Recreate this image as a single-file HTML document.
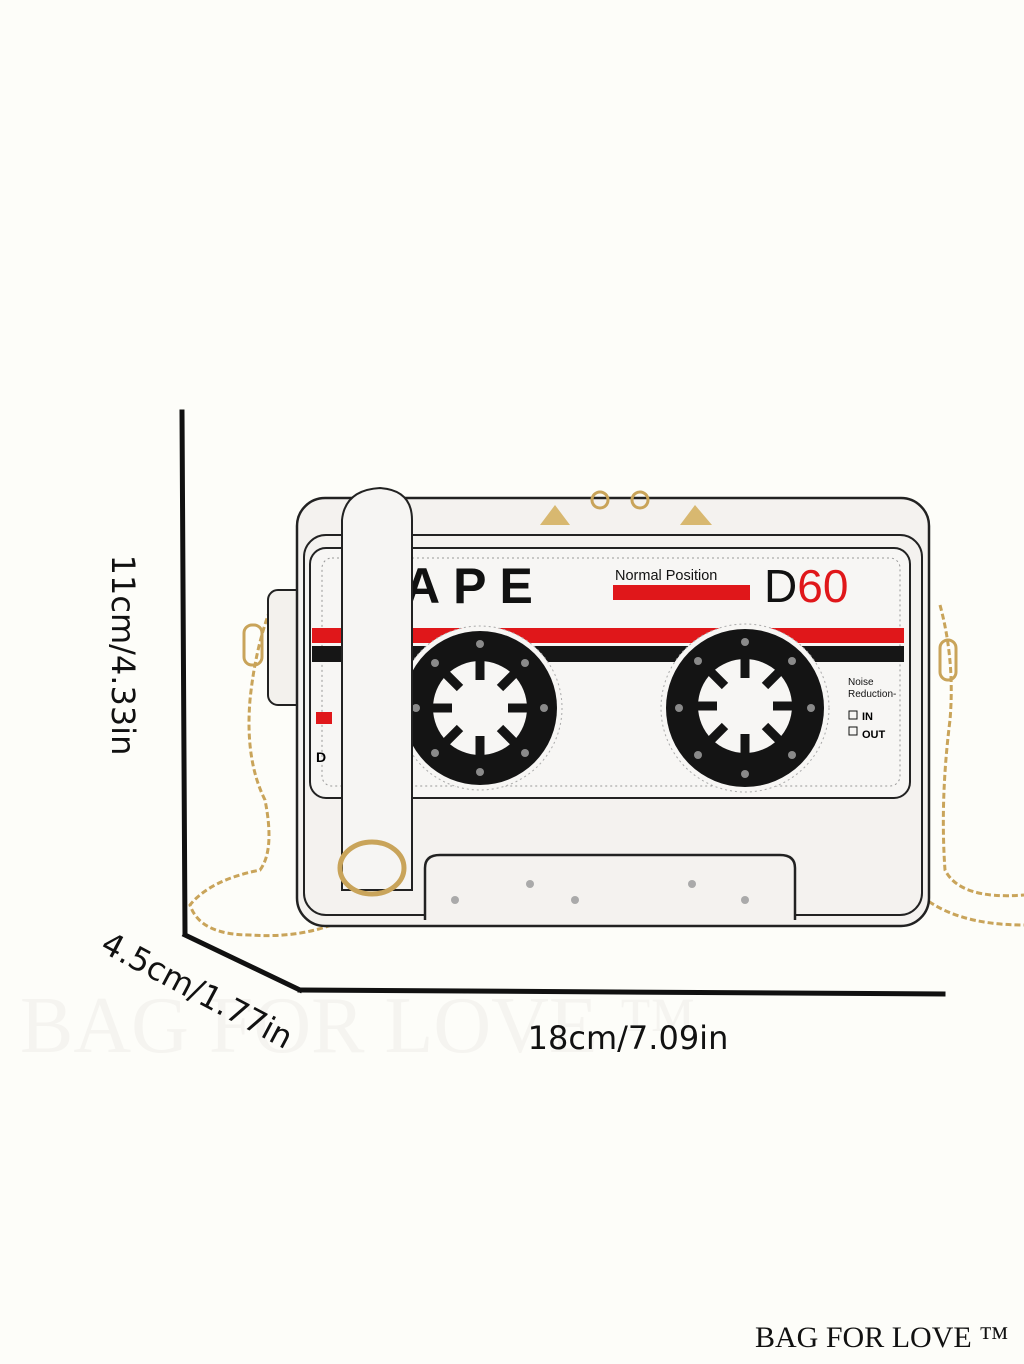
<!DOCTYPE html>
<html><head><meta charset="utf-8"><style>
html,body{margin:0;padding:0;background:#fdfdf9}
svg{display:block}
</style></head><body>
<svg width="1024" height="1364" viewBox="0 0 1024 1364" xmlns="http://www.w3.org/2000/svg" font-family="DejaVu Sans, Liberation Sans, sans-serif">
<rect width="1024" height="1364" fill="#fdfdf9"/>
<!-- watermark -->
<text x="20" y="1052" font-family="Liberation Serif, serif" font-size="80" fill="#f5f4f0">BAG FOR LOVE ™</text>
<!-- chains -->
<g fill="none" stroke="#c9a45a" stroke-width="3">
<path d="M270 610 Q255 650 250 700 Q245 760 265 800 Q275 850 260 870 Q210 880 190 905 Q200 935 250 935 Q320 940 370 905" stroke-dasharray="6 3"/>
<path d="M940 605 Q955 660 950 720 Q940 800 945 870 Q960 900 1024 895" stroke-dasharray="6 3"/>
<path d="M915 890 Q950 925 1024 925" stroke-dasharray="6 3"/>
<rect x="244" y="625" width="18" height="40" rx="8"/>
<rect x="940" y="640" width="16" height="40" rx="8"/>
</g>
<!-- bag side -->
<rect x="268" y="590" width="40" height="115" rx="10" fill="#f3f1ed" stroke="#222" stroke-width="2"/>
<!-- body -->
<rect x="297" y="498" width="632" height="428" rx="28" fill="#f4f2ef" stroke="#222" stroke-width="2.5"/>
<rect x="304" y="535" width="618" height="380" rx="22" fill="none" stroke="#222" stroke-width="2"/>
<!-- label panel -->
<rect x="310" y="548" width="600" height="250" rx="16" fill="#f7f6f4" stroke="#222" stroke-width="2"/>
<rect x="322" y="558" width="578" height="228" rx="10" fill="none" stroke="#999" stroke-width="1" stroke-dasharray="2 3"/>
<!-- stripes -->
<rect x="312" y="628" width="592" height="15" fill="#e0171a"/>
<rect x="312" y="646" width="592" height="16" fill="#161616"/>
<!-- texts -->
<text x="404" y="603" font-family="Liberation Sans, sans-serif" font-size="50" font-weight="bold" letter-spacing="13" fill="#111">APE</text>
<text x="615" y="580" font-family="Liberation Sans, sans-serif" font-size="14.5" fill="#111">Normal Position</text>
<rect x="613" y="585" width="137" height="15" fill="#e0171a"/>
<text x="764" y="602" font-family="Liberation Sans, sans-serif" font-size="46" fill="#111">D<tspan fill="#e0171a">60</tspan></text>
<text x="848" y="685" font-family="Liberation Sans, sans-serif" font-size="10" fill="#111">Noise</text>
<text x="848" y="697" font-family="Liberation Sans, sans-serif" font-size="10" fill="#111">Reduction-</text>
<rect x="849" y="711" width="8" height="8" fill="none" stroke="#111"/>
<text x="862" y="720" font-family="Liberation Sans, sans-serif" font-size="11" font-weight="bold">IN</text>
<rect x="849" y="727" width="8" height="8" fill="none" stroke="#111"/>
<text x="862" y="738" font-family="Liberation Sans, sans-serif" font-size="11" font-weight="bold">OUT</text>
<text x="316" y="762" font-family="Liberation Sans, sans-serif" font-size="14" font-weight="bold">D</text>
<rect x="316" y="712" width="16" height="12" fill="#e0171a"/>
<!-- reels -->
<g>
<circle cx="480" cy="708" r="82" fill="#f7f6f4" stroke="#aaa" stroke-dasharray="2 3"/>
<circle cx="480" cy="708" r="77" fill="#141414"/>
<circle cx="480" cy="708" r="47" fill="#f7f6f4"/>
<g stroke="#141414" stroke-width="9"><line x1="480" y1="660" x2="480" y2="680"/><line x1="480" y1="736" x2="480" y2="756"/><line x1="432" y1="708" x2="452" y2="708"/><line x1="508" y1="708" x2="528" y2="708"/><line x1="446" y1="674" x2="460" y2="688"/><line x1="500" y1="728" x2="514" y2="742"/><line x1="514" y1="674" x2="500" y2="688"/><line x1="460" y1="728" x2="446" y2="742"/></g>
<circle cx="745" cy="708" r="84" fill="#f7f6f4" stroke="#aaa" stroke-dasharray="2 3"/>
<circle cx="745" cy="708" r="79" fill="#141414"/>
<circle cx="745" cy="706" r="47" fill="#f7f6f4"/>
<g stroke="#141414" stroke-width="9"><line x1="745" y1="658" x2="745" y2="678"/><line x1="745" y1="734" x2="745" y2="754"/><line x1="697" y1="706" x2="717" y2="706"/><line x1="773" y1="706" x2="793" y2="706"/><line x1="711" y1="672" x2="725" y2="686"/><line x1="765" y1="726" x2="779" y2="740"/><line x1="779" y1="672" x2="765" y2="686"/><line x1="725" y1="726" x2="711" y2="740"/></g>
</g>
<g fill="#8a8a8a">
<circle cx="480" cy="644" r="4"/><circle cx="480" cy="772" r="4"/><circle cx="416" cy="708" r="4"/><circle cx="544" cy="708" r="4"/>
<circle cx="435" cy="663" r="4"/><circle cx="525" cy="663" r="4"/><circle cx="435" cy="753" r="4"/><circle cx="525" cy="753" r="4"/>
<circle cx="745" cy="642" r="4"/><circle cx="745" cy="774" r="4"/><circle cx="679" cy="708" r="4"/><circle cx="811" cy="708" r="4"/>
<circle cx="698" cy="661" r="4"/><circle cx="792" cy="661" r="4"/><circle cx="698" cy="755" r="4"/><circle cx="792" cy="755" r="4"/>
</g>
<!-- bottom plate -->
<path d="M425 920 L425 868 Q425 855 440 855 L780 855 Q795 855 795 868 L795 920" fill="#f4f2ef" stroke="#222" stroke-width="2.5"/>
<g fill="#aaa"><circle cx="530" cy="884" r="4"/><circle cx="692" cy="884" r="4"/><circle cx="575" cy="900" r="4"/><circle cx="455" cy="900" r="4"/><circle cx="745" cy="900" r="4"/></g>
<!-- zipper -->
<path d="M540 525 L555 505 L570 525 Z M680 525 L695 505 L712 525 Z" fill="#d8b870"/>
<circle cx="600" cy="500" r="8" fill="none" stroke="#c9a45a" stroke-width="3"/>
<circle cx="640" cy="500" r="8" fill="none" stroke="#c9a45a" stroke-width="3"/>
<!-- strap -->
<path d="M342 890 L342 520 Q345 490 380 488 Q412 490 412 520 L412 890 Z" fill="#f6f5f3" stroke="#222" stroke-width="2"/>
<ellipse cx="372" cy="868" rx="32" ry="26" fill="none" stroke="#c9a45a" stroke-width="5"/>
<!-- dimension lines -->
<g stroke="#111" stroke-width="5" fill="none" stroke-linecap="square">
<line x1="182" y1="412" x2="185" y2="933"/>
<line x1="185" y1="935" x2="300" y2="990"/>
<line x1="300" y1="990" x2="943" y2="994"/>
</g>
<text transform="translate(112,655) rotate(90)" text-anchor="middle" font-size="32" fill="#111">11cm/4.33in</text>
<text transform="translate(192,1000) rotate(28)" text-anchor="middle" font-size="32" fill="#111">4.5cm/1.77in</text>
<text x="628" y="1049" text-anchor="middle" font-size="32" fill="#111">18cm/7.09in</text>
<text x="755" y="1347" font-family="Liberation Serif, serif" font-size="30" fill="#111">BAG FOR LOVE ™</text>
</svg>
</body></html>
